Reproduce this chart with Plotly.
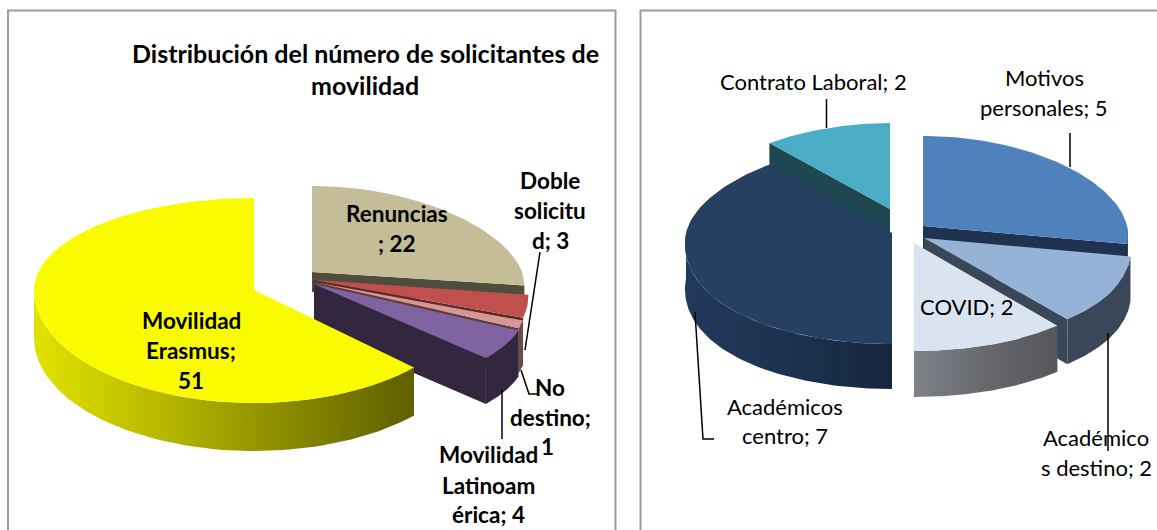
import math
import plotly.graph_objects as go

# ---------- data ----------
left_title = "Distribución del número de solicitantes de<br>movilidad"
left_categories = ["Renuncias", "Doble solicitud", "No destino", "Movilidad Latinoamérica", "Movilidad Erasmus"]
left_values = [22, 3, 1, 4, 51]
right_categories = ["Motivos personales", "Académicos destino", "COVID", "Académicos centro", "Contrato Laboral"]
right_values = [5, 2, 2, 7, 2]

# Labels exactly as wrapped in the picture, one list of lines per slice
left_label_lines = [["Renuncias", "; 22"], ["Doble", "solicitu", "d; 3"], ["No", "destino;", "1"],
                    ["Movilidad", "Latinoam", "érica; 4"], ["Movilidad", "Erasmus;", "51"]]
right_label_lines = [["Motivos", "personales; 5"], ["Académico", "s destino; 2"], ["COVID; 2"],
                     ["Académicos", "centro; 7"], ["Contrato Laboral; 2"]]

# ---------- styling / layout of the 3-D look ----------
left_style = [
    dict(ax=312, ay=272, R=210, up=86, down=100, k=.15, d=20, top="#C4BD97", wall=None, rad="#4F4C3B", side="end"),
    dict(ax=314, ay=280, R=212, up=86, down=105, k=.15, d=8, top="#C0504D", wall=None, rad="#5A2A28", side="end"),
    dict(ax=314, ay=282, R=212, up=86, down=107, k=.15, d=45, top="#D99694", wall="#6B4B4B", rad="#5A3F3F", side="end"),
    dict(ax=314, ay=284, R=212, up=86, down=108, k=.15, d=46, top="#8064A2", wall="#32273F", rad="#32273F", side="end"),
    dict(ax=254, ay=290, R=220, up=92, down=113, k=0, d=48, top="#FBFB00",
         wall=["#E2E200", "#B8B800", "#8A8A00", "#5F5F00"], rad=None, side=None),
]
right_style = [
    dict(ax=923, ay=226, R=204, up=90, down=104, k=.1, d=45, top="#4F81BD", wall="#1F3350", rad="#1F3350", side="end"),
    dict(ax=924, ay=238, R=206, up=90, down=106, k=.1, d=45, top="#95B3D7", wall="#3A4759", rad="#3A4759", side="end"),
    dict(ax=914, ay=243, R=206, up=90, down=108, k=.1, d=46, top="#DAE4F1", wall=["#80828A", "#66686E", "#55575A"], rad=None, side=None),
    dict(ax=892, ay=233, R=206, up=89, down=111, k=.1, d=45, top="#254061", wall=["#22395A", "#1D3250", "#16263C"], rad=None, side=None),
    dict(ax=890, ay=209, R=202, up=86, down=100, k=.1, d=45, top="#4BACC6", wall=None, rad="#1F4752", side="start"),
]
left_order = [0, 1, 2, 3, 4]
right_order = [0, 4, 3, 1, 2]

left_label_pos = [[(397, 213), (397, 243)], [(550, 180), (550, 210), (550, 240)],
                  [(550, 387), (550, 417), (547, 446)], [(488, 454), (488, 485), (488, 514)],
                  [(191, 320), (191, 350), (191, 380)]]
right_label_pos = [[(1044, 77), (1044, 107)], [(1096, 437), (1096, 467)], [(967, 306)],
                   [(785, 406), (785, 435)], [(813, 81)]]

left_leaders = [[(540, 252), (525, 350)], [(521, 370), (529, 394), (537, 394)], [(502, 390), (502, 439)]]
right_leaders = [[(826.5, 99), (826.5, 128)], [(1070, 133), (1070, 167)], [(1108, 333), (1108, 451)],
                 [(695, 312), (703, 439), (714, 439)]]


def pt(s, deg):
    t = math.radians(deg)
    c, sn = math.cos(t), math.sin(t)
    scale = 1 / (1 + s["k"] * c)
    return s["ax"] + s["R"] * sn * scale, s["ay"] - (s["up"] if c > 0 else s["down"]) * c


def arc(s, a0, a1, n=80):
    return [pt(s, a0 + (a1 - a0) * i / n) for i in range(n + 1)]


def poly(fig, pts, colour, name):
    xs = [p[0] for p in pts] + [pts[0][0]]
    ys = [p[1] for p in pts] + [pts[0][1]]
    kw = {}
    if isinstance(colour, list):
        stops = [[i / (len(colour) - 1), c] for i, c in enumerate(colour)]
        kw["fillgradient"] = dict(type="horizontal", colorscale=stops)
    else:
        kw["fillcolor"] = colour
    fig.add_trace(go.Scatter(x=xs, y=ys, mode="lines", fill="toself", line=dict(width=0),
                             name=name, hoverinfo="name", showlegend=False, **kw))


def draw_pie(fig, cats, vals, style, order):
    total = sum(vals)
    angles, acc = [], 0
    for v in vals:
        angles.append((acc / total * 360, (acc + v) / total * 360))
        acc += v
    for i in order:
        s = style[i]
        a0, a1 = angles[i]
        name = f"{cats[i]}; {vals[i]}"
        if s["rad"]:
            e = a1 if s["side"] == "end" else a0
            p = pt(s, e)
            apex = (s["ax"], s["ay"])
            poly(fig, [apex, p, (p[0], p[1] + s["d"]), (apex[0], apex[1] + s["d"])], s["rad"], name)
        if s["wall"]:
            w0, w1 = max(a0, 90), min(a1, 270)
            if w1 > w0:
                top = arc(s, w0, w1)
                poly(fig, top + [(x, y + s["d"]) for x, y in reversed(top)], s["wall"], name)
        poly(fig, [(s["ax"], s["ay"])] + arc(s, a0, a1), s["top"], name)


fig = go.Figure()
draw_pie(fig, left_categories, left_values, left_style, left_order)
draw_pie(fig, right_categories, right_values, right_style, right_order)

shapes = [
    dict(type="rect", x0=8, y0=10.5, x1=615.5, y1=535, line=dict(color="#9C9C9C", width=2)),
    dict(type="rect", x0=640.5, y0=10.5, x1=1165, y1=535, line=dict(color="#9C9C9C", width=2)),
]
for path in left_leaders + right_leaders:
    d = "M" + " L".join(f"{x},{y}" for x, y in path)
    shapes.append(dict(type="path", path=d, line=dict(color="black", width=1.5), layer="above"))

FONT = "Lato"
ann = []
for line, y in zip(left_title.split("<br>"), (53, 85)):
    ann.append(dict(x=365, y=y, text=f"<b>{line}</b>", showarrow=False, xref="x", yref="y",
                    font=dict(family=FONT, size=25, color="black")))
for lines, poss in zip(left_label_lines, left_label_pos):
    for line, (x, y) in zip(lines, poss):
        ann.append(dict(x=x, y=y, text=f"<b>{line}</b>", showarrow=False, xref="x", yref="y",
                        font=dict(family=FONT, size=22.5, color="black")))
for lines, poss in zip(right_label_lines, right_label_pos):
    for line, (x, y) in zip(lines, poss):
        ann.append(dict(x=x, y=y, text=line, showarrow=False, xref="x", yref="y",
                        font=dict(family=FONT, size=22, color="black")))

fig.update_layout(
    width=1157, height=530, margin=dict(l=0, r=0, t=0, b=0),
    paper_bgcolor="white", plot_bgcolor="white", showlegend=False,
    xaxis=dict(range=[0, 1157], visible=False, fixedrange=True),
    yaxis=dict(range=[530, 0], visible=False, fixedrange=True),
    shapes=shapes, annotations=ann,
)
fig.write_html("out.html", post_script="document.body.style.margin='0';", config=dict(displayModeBar=False))
